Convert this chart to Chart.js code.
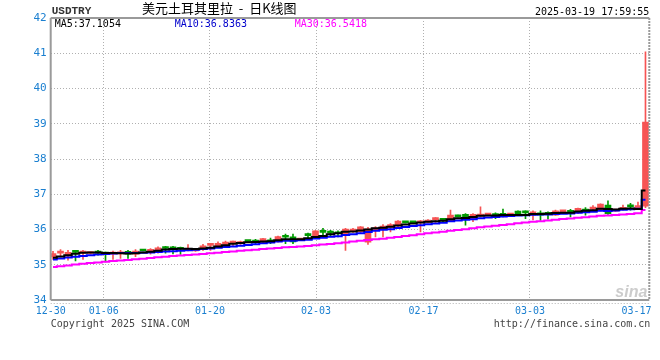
<!DOCTYPE html>
<html><head><meta charset="utf-8">
<script src="https://cdn.jsdelivr.net/npm/chart.js@4/dist/chart.umd.min.js"></script>
<style>html,body{margin:0;padding:0;background:#fff}#wrap{width:660px;height:360px;position:relative}</style>
</head><body><div id="wrap"><canvas id="c" width="660" height="360"></canvas></div>
<script>
// ---- data (daily candles 12-30 .. 03-19) ----
const opens  = [35.22,35.33,35.25,35.37,35.33,35.32,35.37,35.31,35.30,35.31,35.38,35.30,35.41,35.355,35.385,35.47,35.465,35.45,35.41,35.39,
                35.44,35.55,35.53,35.58,35.615,35.60,35.665,35.665,35.64,35.67,35.665,35.80,35.79,35.70,35.84,35.76,35.94,35.91,35.895,35.885,
                35.935,35.935,35.64,35.97,36.01,36.06,36.10,36.22,36.22,36.19,36.20,36.28,36.27,36.25,36.40,36.43,36.29,36.38,36.41,36.45,
                36.41,36.41,36.52,36.48,36.41,36.47,36.44,36.41,36.50,36.51,36.47,36.53,36.58,36.55,36.69,36.52,36.57,36.68,36.62,36.66];
const highs  = [35.38,35.43,35.41,35.41,35.41,35.36,35.41,35.36,35.39,35.41,35.41,35.43,35.41,35.46,35.51,35.52,35.52,35.50,35.57,35.44,
                35.58,35.60,35.65,35.67,35.67,35.67,35.665,35.72,35.75,35.76,35.81,35.87,35.87,35.73,35.90,35.97,36.03,35.98,35.96,36.03,
                36.03,36.08,36.06,36.08,36.14,36.17,36.25,36.22,36.22,36.26,36.28,36.34,36.31,36.55,36.41,36.45,36.45,36.64,36.46,36.47,
                36.58,36.43,36.53,36.53,36.53,36.53,36.50,36.55,36.52,36.57,36.61,36.62,36.68,36.73,36.81,36.56,36.69,36.74,36.78,41.04];
const lows   = [35.15,35.22,35.13,35.11,35.15,35.31,35.27,35.08,35.15,35.18,35.18,35.23,35.39,35.30,35.33,35.33,35.31,35.29,35.39,35.38,
                35.41,35.41,35.50,35.56,35.51,35.58,35.655,35.58,35.60,35.60,35.64,35.60,35.60,35.69,35.74,35.74,35.82,35.82,35.79,35.41,
                35.92,35.92,35.58,35.79,35.79,35.93,36.08,36.19,36.19,35.93,36.19,36.20,36.20,36.22,36.355,36.12,36.22,36.36,36.40,36.31,
                36.36,36.40,36.40,36.31,36.27,36.26,36.29,36.40,36.49,36.36,36.45,36.41,36.53,36.53,36.43,36.51,36.55,36.55,36.60,36.62];
const closes = [35.32,35.345,35.35,35.35,35.345,35.35,35.33,35.30,35.33,35.32,35.30,35.39,35.39,35.44,35.48,35.46,35.455,35.44,35.44,35.43,
                35.535,35.56,35.61,35.64,35.625,35.65,35.655,35.64,35.745,35.65,35.80,35.78,35.65,35.72,35.825,35.96,35.92,35.895,35.88,36.01,
                36.01,36.075,36.02,36.05,36.10,36.14,36.24,36.19,36.19,36.22,36.265,36.29,36.26,36.41,36.36,36.31,36.43,36.43,36.45,36.36,
                36.40,36.42,36.41,36.47,36.50,36.41,36.43,36.53,36.51,36.49,36.60,36.52,36.61,36.72,36.45,36.55,36.63,36.64,36.65,39.05];
// closes of the 29 days before the window (estimated from where the MA lines start)
const priorCloses = [34.62,34.64,34.66,34.70,34.72,34.74,34.73,34.78,34.80,34.82,34.85,34.86,34.88,34.90,34.92,
                     34.94,34.96,34.98,35.00,35.03,35.05,35.08,35.10,35.12,35.14,35.15,35.16,35.17,35.18];
const tickLabels = ['12-30','01-06','01-20','02-03','02-17','03-03','03-17'];
const tickPos    = [-0.3, 6.77, 20.93, 35.07, 49.41, 63.6, 77.8];
const yTicks     = [34,35,36,37,38,39,40,41,42];
const maLabels   = ['MA5:37.1054','MA10:36.8363','MA30:36.5418'];
const symbol = 'USDTRY';
const title  = '美元土耳其里拉  -  日K线图';
const stamp  = '2025-03-19 17:59:55';
const copyright = 'Copyright 2025 SINA.COM';
const url = 'http://finance.sina.com.cn';

// ---- styles ----
const UP = '#f65454', DOWN = '#009a00';
const MA_COLORS = ['#000000','#0000ff','#ff00ff'];
const MA_TEXT = ['#000000','#0000cc','#ff00ff'];
const TICK_BLUE = '#1a7fd0';
const GRID = '#b0b0b0';
const MONO = '"DejaVu Sans Mono", "Liberation Mono", monospace';

function movingAvg(n){
  const all = priorCloses.concat(closes), off = priorCloses.length;
  return closes.map((_, i) => { let s = 0; for (let k = i + off - n + 1; k <= i + off; k++) s += all[k]; return s / n; });
}
const ma5 = movingAvg(5), ma10 = movingAvg(10), ma30 = movingAvg(30);
const colors = closes.map((c, i) => c >= opens[i] ? UP : DOWN);

const frame = {
  id: 'frame',
  afterDatasetsDraw(chart){
    const {ctx, chartArea: a} = chart;
    ctx.save();
    ctx.strokeStyle = '#9a9a9a'; ctx.lineWidth = 2;
    ctx.beginPath();
    ctx.moveTo(a.left, a.top); ctx.lineTo(a.right, a.top);
    ctx.moveTo(a.left, a.top); ctx.lineTo(a.left, a.bottom);
    ctx.moveTo(a.left, a.bottom); ctx.lineTo(a.right, a.bottom);
    ctx.stroke();
    ctx.setLineDash([2,1]);
    ctx.beginPath(); ctx.moveTo(a.right, a.top); ctx.lineTo(a.right, a.bottom); ctx.stroke();
    ctx.lineWidth = 1; ctx.strokeStyle = '#b0b0b0'; ctx.setLineDash([1,2]);
    ctx.beginPath(); ctx.moveTo(a.left, a.bottom + 3.5); ctx.lineTo(a.right, a.bottom + 3.5); ctx.stroke();
    ctx.restore();
  },
  afterDraw(chart){
    const {ctx, chartArea: a} = chart;
    ctx.save();
    ctx.textBaseline = 'middle';
    ctx.font = 'bold 11px "Liberation Mono", monospace'; ctx.fillStyle = '#333';
    ctx.textAlign = 'left'; ctx.fillText(symbol, a.left + 1, 11);
    ctx.font = '13px "Noto Sans CJK SC", sans-serif'; ctx.fillStyle = '#000';
    ctx.fillText(title, 142, 8);
    ctx.font = '10px ' + MONO; ctx.fillStyle = '#000';
    ctx.textAlign = 'right'; ctx.fillText(stamp, a.right, 12);
    ctx.textAlign = 'left';
    const mx = [a.left + 4, a.left + 124, a.left + 244];
    maLabels.forEach((t, i) => { ctx.fillStyle = MA_TEXT[i]; ctx.fillText(t, mx[i], 24); });
    ctx.fillStyle = '#444';
    ctx.fillText(copyright, a.left, 324);
    ctx.textAlign = 'right'; ctx.fillText(url, a.right + 1, 324);
    // faint watermark
    ctx.font = 'italic bold 16px "Liberation Sans", sans-serif'; ctx.fillStyle = '#cccccc';
    ctx.fillText('sina', a.right - 2, a.bottom - 7);
    ctx.restore();
  }
};

new Chart(document.getElementById('c'), {
  type: 'bar',
  data: {
    datasets: [
      {type:'line', data: ma5.map((v,i)=>({x:i,y:v})), borderColor: MA_COLORS[0], borderWidth: 2, pointRadius: 0, stepped: 'middle'},
      {type:'line', data: ma10.map((v,i)=>({x:i,y:v})), borderColor: MA_COLORS[1], borderWidth: 2, pointRadius: 0, stepped: 'middle'},
      {type:'line', data: ma30.map((v,i)=>({x:i,y:v})), borderColor: MA_COLORS[2], borderWidth: 2, pointRadius: 0, stepped: 'middle'},
      {data: opens.map((o,i)=>({x:i, y:[o, closes[i]]})), backgroundColor: colors, barThickness: 6, minBarLength: 2, grouped: false},
      {data: lows.map((l,i)=>({x:i, y:[l, highs[i]]})), backgroundColor: colors, barThickness: 1, grouped: false}
    ]
  },
  options: {
    responsive: false, animation: false, events: [],
    layout: {padding: {top: 18, right: 10.7, left: 0, bottom: 0}},
    plugins: {legend: {display: false}, tooltip: {enabled: false}},
    scales: {
      x: {
        type: 'linear', min: -0.307, max: 79.51, offset: false,
        afterBuildTicks: s => { s.ticks = tickPos.map(v => ({value: v})); },
        afterFit: s => { s.height = 60; },
        grid: {offset: false, drawTicks: false, color: c => (c.index === 0 || c.index === tickPos.length - 1) ? 'rgba(0,0,0,0)' : GRID, lineWidth: 1},
        border: {display: false, dash: [1,2]},
        ticks: {autoSkip: false, maxRotation: 0, padding: 5, color: TICK_BLUE, font: {family: MONO, size: 10},
                callback: (v, i) => tickLabels[i]}
      },
      y: {
        min: 34, max: 42,
        afterBuildTicks: s => { s.ticks = yTicks.map(v => ({value: v})); },
        afterFit: s => { s.width = 50.7; },
        grid: {drawTicks: false, color: c => (c.tick.value === 34 || c.tick.value === 42) ? 'rgba(0,0,0,0)' : GRID, lineWidth: 1},
        border: {display: false, dash: [1,2]},
        ticks: {padding: 4, color: TICK_BLUE, font: {family: MONO, size: 11}, callback: v => String(v)}
      }
    }
  },
  plugins: [frame]
});
</script>
</body></html>
